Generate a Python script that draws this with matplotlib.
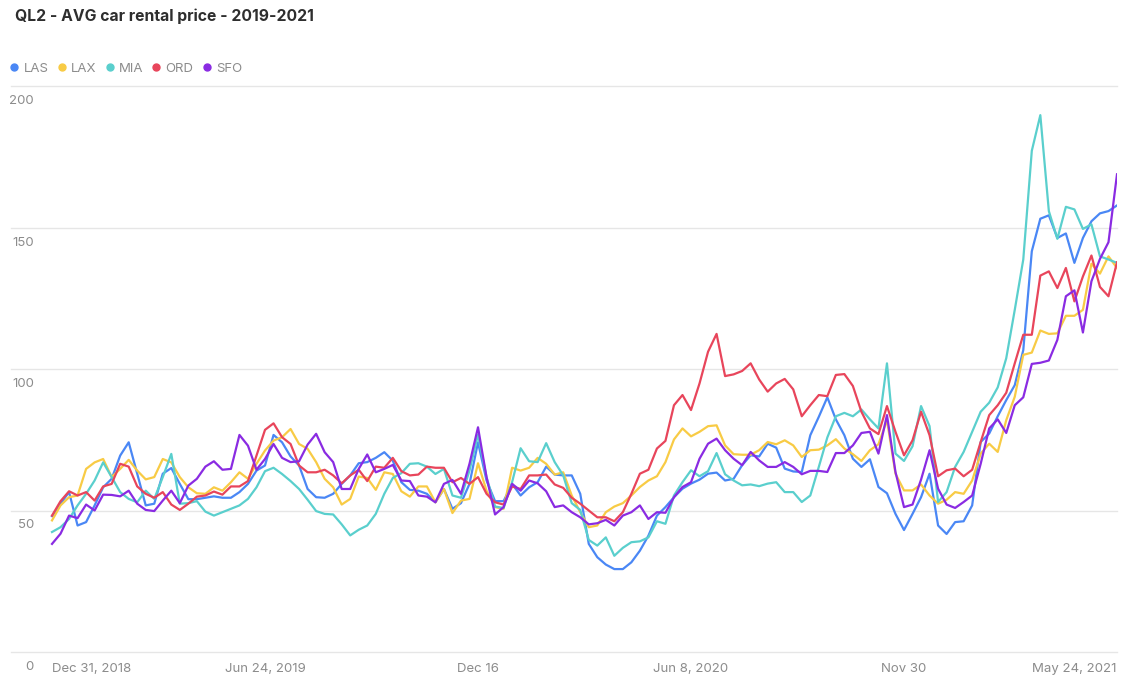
import numpy as np
import pandas as pd
import matplotlib
matplotlib.use('Agg')
import matplotlib.pyplot as plt
from matplotlib.lines import Line2D

plt.rcParams['font.family'] = ['Inter', 'DejaVu Sans']

# weekly observations, Dec 31 2018 .. May 24 2021
weeks = pd.date_range('2018-12-31', periods=126, freq='7D')

LAS = [48, 52.4, 56.5, 44.7, 45.9, 51.8, 58.2, 61.2, 69.4, 74.1, 63, 51.8, 52.4, 63, 65, 59.4, 54, 54, 54.5, 55, 54.5, 54.5,
       56.5, 59.4, 64.1, 65.9, 76.7, 74.1, 69.1, 65.9, 57.6, 54.7, 54.5, 55.9, 59.4, 62.4, 66.7, 67.1, 68.6, 70.6, 67.6, 60, 57.3,
       57, 55.9, 52.9, 57.6, 50.6, 52.6, 59.4, 74.1, 60.6, 53.3, 53.3, 59.4, 55.3, 58.2, 60, 65.5, 62.7, 62.4, 62.4, 55.9, 38.2,
       33.5, 30.9, 29.3, 29.3, 31.7, 35.8, 41.1, 48.2, 51.2, 54.7, 57.7, 59.5, 60.9, 63, 63.4, 60.6, 61.2, 66, 69.5, 69.1, 73.6,
       72.2, 64.8, 63.8, 63.6, 76.6, 83.1, 90, 82.2, 76.6, 68.3, 65.4, 68.1, 58.3, 56.1, 48.8, 43.1, 48.8, 54.7, 63, 44.7, 41.7,
       45.9, 46.2, 51.8, 74.2, 77.2, 83.3, 89, 94.3, 106.7, 141.6, 153.1, 154.3, 146.3, 147.9, 137.5, 146.3, 152.2, 155, 155.8, 157.8]
LAX = [46.5, 51.8, 54.7, 55.3, 64.7, 67, 68.2, 61.8, 64.7, 67.9, 64.1, 61, 61.8, 68.2, 67, 61.8, 58.2, 56.1, 55.9, 58.2, 57, 60,
       63.5, 61.2, 66.5, 71.2, 74.7, 75.9, 78.8, 73.5, 71.8, 67.1, 61.2, 58.2, 52.1, 54.1, 62, 61.5, 57.3, 63.5, 62.9, 56.8, 54.9,
       58.5, 58.5, 52.9, 57.6, 49.1, 53.5, 54.1, 66.7, 57, 51.2, 50.6, 65.1, 64.1, 65.1, 68.6, 66.5, 62.7, 63.5, 55.3, 49.4, 44.1,
       44.7, 49.4, 51.4, 52.6, 55.3, 58.3, 60.6, 62.1, 67.1, 75.1, 79, 76.2, 77.8, 79.8, 80.1, 73, 69.9, 69.7, 69.7, 71.3, 74.2,
       73.4, 74.8, 73, 68.9, 71.3, 71.5, 73, 75.2, 71.9, 69.9, 67.5, 71.3, 73.4, 81.9, 63, 57.1, 57.1, 59.2, 55.3, 52.4, 53.8,
       56.5, 55.9, 60.6, 70.1, 73.6, 70.7, 81.9, 90.2, 105, 105.8, 113.6, 112.4, 112.6, 118.8, 118.8, 120.9, 137.2, 133.7, 139.8, 135.7]
MIA = [42.4, 44.1, 47, 51.8, 55.9, 60.6, 67, 61.8, 56.5, 54.1, 52.9, 57, 54.1, 61.8, 70, 52.4, 52.6, 53.3, 49.6, 48.2, 49.4, 50.6,
       51.8, 54.1, 58.2, 63.9, 65.1, 62.9, 60.4, 57.6, 53.8, 49.8, 48.8, 48.6, 45.1, 41.2, 43.2, 44.7, 48.8, 55.9, 61.5, 63.2, 66.5,
       66.7, 65.5, 62.9, 64.7, 55.3, 54.5, 64.1, 76.8, 61.8, 51.4, 50.9, 60, 72, 67.4, 67.1, 73.8, 67.1, 62.4, 52.6, 50.2, 39.6,
       37.6, 40.5, 34, 36.8, 38.8, 39.1, 40.5, 46.2, 45.3, 55.3, 60, 64.2, 62.1, 63.9, 70.3, 62.8, 60.6, 58.9, 59.2, 58.6, 59.5,
       60, 56.5, 56.5, 53, 55.3, 65.4, 75.8, 83.3, 84.5, 83.3, 85.7, 82.2, 79, 102, 70.1, 67.5, 72.7, 86.9, 79.8, 53, 56.5,
       65.4, 70.7, 77.8, 84.9, 88.1, 93.5, 103.8, 120.9, 138.7, 177.1, 189.7, 155.8, 146, 157.3, 156.4, 149.5, 151.1, 139.8, 138.7, 137.5]
ORD = [48.2, 53.3, 56.8, 55.3, 56.5, 53.5, 58.5, 59.4, 66.5, 65.5, 58.5, 55.9, 54.5, 56.5, 52.1, 50.2, 52.4, 54.9, 55.3, 56.7, 55.6, 58.5,
       58.5, 60.4, 69.4, 78.5, 80.8, 75.9, 73.5, 65.9, 63.5, 63.5, 64.4, 62.4, 59.6, 62.4, 64.4, 60.4, 65.5, 65.1, 68.6, 63.9, 62.4,
       62.7, 65.5, 65.1, 65.1, 60, 61.5, 59.4, 61.8, 55.9, 52.9, 52.1, 58.5, 57.6, 62.4, 62.4, 62.7, 59.2, 58, 54.5, 52.4, 50,
       47.6, 47.6, 46.2, 49.4, 55.9, 63, 64.4, 71.9, 74.6, 87.2, 90.8, 85.5, 94.9, 106.1, 112.4, 97.5, 98.1, 99.3, 102, 96.3, 92,
       94.9, 96.5, 92.8, 83.3, 87.2, 90.8, 90.4, 97.9, 98.2, 94, 84.9, 79, 77, 86.9, 77.8, 69.5, 74.8, 84.9, 76.6, 62.1, 64.2,
       64.8, 62.1, 64.4, 74.2, 83.7, 87.2, 91.6, 102, 112.1, 112.1, 133, 134.5, 128.6, 135.7, 123.9, 132.7, 140.1, 129, 125.7, 137.7]
SFO = [38.2, 41.8, 48.2, 47.3, 52.1, 50, 55.6, 55.5, 55, 57, 52.4, 50.2, 49.8, 53.5, 57, 52.6, 58.8, 61.2, 65.5, 67.4, 64.4, 64.7,
       76.7, 72.9, 64.4, 68.2, 73.5, 68.6, 67.1, 67.4, 73.3, 77.1, 70.6, 67.1, 57.6, 57.6, 64.7, 69.8, 63.5, 64.7, 66.1, 60.6, 60.4,
       55.3, 54.9, 52.9, 59.4, 60.8, 55.9, 66.5, 79.4, 61.8, 48.6, 51.2, 59.4, 57, 60.6, 59.6, 56.8, 51.2, 51.8, 49.4, 47.6, 45.1,
       45.5, 46.7, 44.7, 48.2, 49.4, 51.8, 47, 49.4, 49.2, 54.7, 58.3, 60, 68.3, 73.6, 75.4, 71.3, 68.3, 66, 70.7, 67.7, 65.4,
       65.4, 67.1, 65.4, 62.8, 64, 64, 63.6, 70.3, 70.3, 73, 77.4, 77.8, 70.1, 83.7, 63.6, 51.2, 52.1, 60.9, 71.3, 57.7, 52.1,
       50.9, 53, 55.3, 66.5, 79, 82.2, 77.4, 87.2, 90, 101.8, 102.2, 103, 110.3, 125.7, 127.8, 112.9, 131, 138.9, 144.8, 168.8]

names = ['LAS', 'LAX', 'MIA', 'ORD', 'SFO']
series = [LAS, LAX, MIA, ORD, SFO]
colors = ['#4a87f5', '#f8cb45', '#5acfcd', '#e8455b', '#8a2be2']

yticks = [0, 50, 100, 150, 200]
tick_idx = [0, 25, 50, 75, 100, 125]
tick_labels = ['Dec 31, 2018', 'Jun 24, 2019', 'Dec 16', 'Jun 8, 2020', 'Nov 30', 'May 24, 2021']

W, H = 1133, 683
fig = plt.figure(figsize=(W / 100, H / 100), dpi=100)
ax = fig.add_axes([11 / W, 1 - 652 / H, (1117 - 11) / W, (652 - 86) / H])

for name, vals, col in zip(names, series, colors):
    ax.plot(weeks, vals, color=col, lw=1.6, label=name)

ax.set_xlim(weeks[0] - pd.Timedelta(days=33.7), weeks[-1])
ax.set_ylim(0, 200)

for s in ax.spines.values():
    s.set_visible(False)
ax.set_yticks([])
for v in yticks:
    ax.axhline(v, color='#e6e6e6', lw=1, zorder=0, clip_on=False)
    ax.annotate(str(v), xy=(0, v), xycoords=('axes fraction', 'data'),
                xytext=(23, -15), textcoords='offset pixels',
                ha='right', va='center', fontsize=9.5, color='#8c8c8c')

ax.set_xticks(weeks[tick_idx])
ax.set_xticklabels(tick_labels)
ax.tick_params(axis='x', length=0, pad=8, labelsize=9.5, labelcolor='#8c8c8c')
lbls = ax.get_xticklabels()
lbls[0].set_ha('left')
lbls[-1].set_ha('right')

fig.text(15 / W, 1 - 16 / H, 'QL2 - AVG car rental price - 2019-2021',
         fontsize=11.3, fontweight='bold', color='#2e2e2e', va='center', ha='left')

handles = [Line2D([], [], marker='o', ls='none', color=c, markersize=5) for c in colors]
fig.legend(handles, names, loc='center left', bbox_to_anchor=(9 / W, 1 - 69 / H),
           ncol=5, frameon=False, fontsize=9.5, labelcolor='#8c8c8c',
           handlelength=0.8, handletextpad=0.3, columnspacing=0.6,
           borderpad=0, borderaxespad=0)

fig.savefig('out.png', dpi=100)
